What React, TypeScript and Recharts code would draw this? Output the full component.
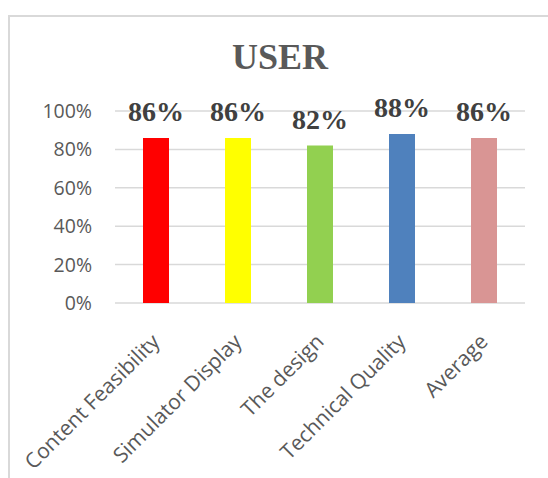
import { BarChart, Bar, XAxis, YAxis, CartesianGrid, LabelList, Cell } from "recharts"

// user survey scores
const CATEGORIES = [
  "Content Feasibility",
  "Simulator Display",
  "The design",
  "Technical Quality",
  "Average",
]
const SCORES = [0.86, 0.86, 0.82, 0.88, 0.86]
const BAR_COLORS = ["#FF0000", "#FFFF00", "#92D050", "#4F81BD", "#D99594"]
const Y_TICKS = [0, 0.2, 0.4, 0.6, 0.8, 1]

const DATA = CATEGORIES.map((name, i) => ({ name, score: SCORES[i] }))

const SANS = '"Open Sans", "Noto Sans", sans-serif'
const SERIF = '"Liberation Serif", "Times New Roman", serif'

function pct(v: number) {
  return `${Math.round(v * 100)}%`
}

function CategoryTick(props: any) {
  const { x, y, payload } = props
  const tx = x + 5
  const ty = y + 32
  return (
    <text
      x={tx}
      y={ty}
      transform={`rotate(-45, ${tx}, ${ty})`}
      textAnchor="end"
      fill="#595959"
      fontSize={21}
      fontFamily={SANS}
    >
      {payload.value}
    </text>
  )
}

export default function App() {
  return (
    <div style={{ position: "absolute", left: 0, top: 0, width: 548, height: 478, background: "#fff" }}>
      <div
        style={{
          position: "absolute",
          left: 8,
          top: 15,
          width: 540,
          height: 463,
          boxSizing: "border-box",
          borderTop: "2px solid #d9d9d9",
          borderLeft: "2px solid #d9d9d9",
        }}
      />
      <svg width={548} height={478} style={{ position: "absolute", left: 0, top: 0 }}>
        <text
          x={280}
          y={69}
          textAnchor="middle"
          fontFamily={SERIF}
          fontWeight="bold"
          fontSize={36}
          fill="#595959"
        >
          USER
        </text>
      </svg>
      <div style={{ position: "absolute", left: 0, top: 0 }}>
        <BarChart
          width={548}
          height={478}
          data={DATA}
          margin={{ top: 111, right: 23, left: 0, bottom: 0 }}
          barSize={26}
        >
          <CartesianGrid vertical={false} stroke="#d9d9d9" strokeWidth={1.5} />
          <XAxis
            dataKey="name"
            axisLine={false}
            tickLine={false}
            height={175}
            interval={0}
            tick={<CategoryTick />}
          />
          <YAxis
            domain={[0, 1]}
            ticks={Y_TICKS}
            width={115}
            axisLine={false}
            tickLine={false}
            tickMargin={17}
            tickFormatter={pct}
            tick={{ fill: "#595959", fontSize: 19.5, fontFamily: SANS }}
          />
          <Bar dataKey="score" isAnimationActive={false}>
            {DATA.map((d, i) => (
              <Cell key={d.name} fill={BAR_COLORS[i]} />
            ))}
            <LabelList
              dataKey="score"
              position="top"
              offset={17}
              formatter={(v: any) => pct(Number(v))}
              style={{ fill: "#404040", fontSize: 28, fontWeight: "bold", fontFamily: SERIF }}
            />
          </Bar>
        </BarChart>
      </div>
    </div>
  )
}
